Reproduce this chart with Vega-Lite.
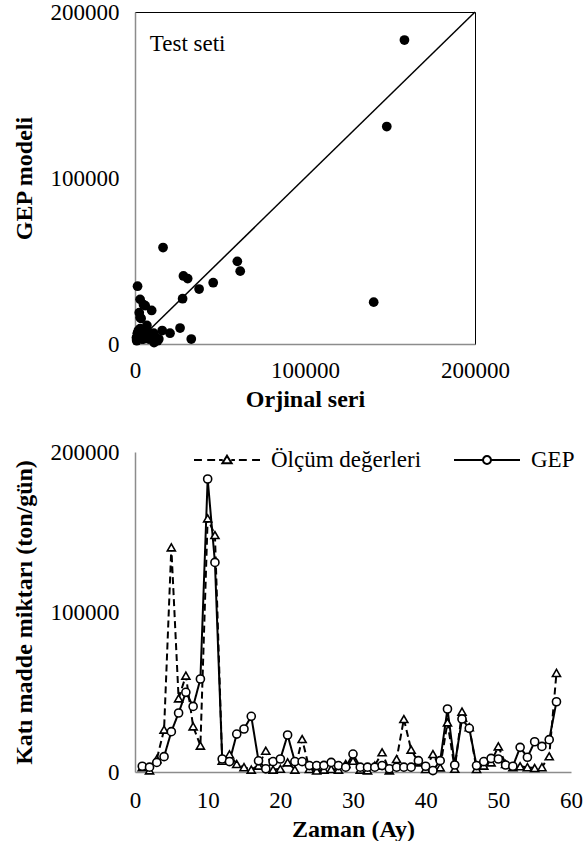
{
  "$schema": "https://vega.github.io/schema/vega-lite/v6.json",
  "background": "white",
  "padding": {"left": 11, "top": 0, "right": 0, "bottom": 0},
  "spacing": 14,
  "resolve": {"legend": {"shape": "independent"}},
  "datasets": {
    "d": [
      {"t": 1, "meas": 3000, "gep": 3600},
      {"t": 2, "meas": 1000, "gep": 3000},
      {"t": 3, "meas": 8000, "gep": 6000},
      {"t": 4, "meas": 26500, "gep": 9600},
      {"t": 5, "meas": 140400, "gep": 25200},
      {"t": 6, "meas": 46000, "gep": 36900},
      {"t": 7, "meas": 60200, "gep": 49800},
      {"t": 8, "meas": 28500, "gep": 41000},
      {"t": 9, "meas": 16500, "gep": 58100},
      {"t": 10, "meas": 158500, "gep": 183100},
      {"t": 11, "meas": 148100, "gep": 131000},
      {"t": 12, "meas": 7000, "gep": 8100},
      {"t": 13, "meas": 11000, "gep": 6500},
      {"t": 14, "meas": 5000, "gep": 23700},
      {"t": 15, "meas": 3000, "gep": 26900},
      {"t": 16, "meas": 1500, "gep": 34800},
      {"t": 17, "meas": 4000, "gep": 7000},
      {"t": 18, "meas": 13300, "gep": 2000},
      {"t": 19, "meas": 1500, "gep": 6500},
      {"t": 20, "meas": 2000, "gep": 8100},
      {"t": 21, "meas": 6000, "gep": 23100},
      {"t": 22, "meas": 1500, "gep": 6500},
      {"t": 23, "meas": 20600, "gep": 6500},
      {"t": 24, "meas": 1900, "gep": 4000},
      {"t": 25, "meas": 900, "gep": 4000},
      {"t": 26, "meas": 1500, "gep": 4100},
      {"t": 27, "meas": 1900, "gep": 6000},
      {"t": 28, "meas": 1500, "gep": 4000},
      {"t": 29, "meas": 5000, "gep": 3000},
      {"t": 30, "meas": 7000, "gep": 11200},
      {"t": 31, "meas": 1500, "gep": 3000},
      {"t": 32, "meas": 1000, "gep": 3000},
      {"t": 33, "meas": 4000, "gep": 3000},
      {"t": 34, "meas": 12300, "gep": 4000},
      {"t": 35, "meas": 1000, "gep": 2000},
      {"t": 36, "meas": 8100, "gep": 3000},
      {"t": 37, "meas": 33100, "gep": 3000},
      {"t": 38, "meas": 14000, "gep": 3000},
      {"t": 39, "meas": 6000, "gep": 7100},
      {"t": 40, "meas": 1900, "gep": 3600},
      {"t": 41, "meas": 11200, "gep": 900},
      {"t": 42, "meas": 2900, "gep": 7100},
      {"t": 43, "meas": 31000, "gep": 39400},
      {"t": 44, "meas": 2000, "gep": 4400},
      {"t": 45, "meas": 37700, "gep": 33100},
      {"t": 46, "meas": 28000, "gep": 27300},
      {"t": 47, "meas": 1900, "gep": 4000},
      {"t": 48, "meas": 4000, "gep": 6500},
      {"t": 49, "meas": 6000, "gep": 8500},
      {"t": 50, "meas": 16000, "gep": 8100},
      {"t": 51, "meas": 5000, "gep": 4400},
      {"t": 52, "meas": 3000, "gep": 3600},
      {"t": 53, "meas": 3600, "gep": 15400},
      {"t": 54, "meas": 3000, "gep": 9200},
      {"t": 55, "meas": 2500, "gep": 18900},
      {"t": 56, "meas": 3000, "gep": 16000},
      {"t": 57, "meas": 9800, "gep": 20200},
      {"t": 58, "meas": 61900, "gep": 43900}
    ]
  },
  "config": {
    "font": "Liberation Serif",
    "axis": {
      "grid": false,
      "ticks": false,
      "domainColor": "#8c8c8c",
      "domainWidth": 1.5,
      "labelFont": "Liberation Serif",
      "labelFontSize": 23,
      "labelColor": "black",
      "titleFont": "Liberation Serif",
      "titleFontSize": 24,
      "titleFontWeight": "bold",
      "titleColor": "black",
      "labelFlush": false,
      "labelOverlap": false
    },
    "axisX": {"labelPadding": 15, "titlePadding": 5},
    "axisY": {"labelPadding": 16, "titlePadding": 14},
    "legend": {
      "labelFont": "Liberation Serif",
      "labelFontSize": 23,
      "labelColor": "black"
    }
  },
  "vconcat": [
    {
      "width": 340,
      "height": 332,
      "view": {"stroke": "black", "strokeWidth": 1},
      "layer": [
        {
          "data": {"values": [{}]},
          "mark": {"type": "rule", "color": "black", "strokeWidth": 1.5},
          "encoding": {
            "x": {"datum": 0, "type": "quantitative"},
            "y": {"datum": 0, "type": "quantitative"},
            "x2": {"datum": 200000},
            "y2": {"datum": 200000}
          }
        },
        {
          "data": {"name": "d"},
          "mark": {"type": "point", "filled": true, "color": "black", "size": 95, "opacity": 1},
          "encoding": {
            "x": {
              "field": "meas", "type": "quantitative",
              "scale": {"domain": [0, 200000], "nice": false, "zero": true},
              "axis": {"values": [0, 100000, 200000], "format": "d", "title": "Orjinal seri"}
            },
            "y": {
              "field": "gep", "type": "quantitative",
              "scale": {"domain": [0, 200000], "nice": false, "zero": true},
              "axis": {"values": [0, 100000, 200000], "format": "d", "title": "GEP modeli"}
            }
          }
        },
        {
          "data": {"values": [{}]},
          "mark": {"type": "text", "text": "Test seti", "align": "left", "baseline": "middle", "font": "Liberation Serif", "fontSize": 23, "color": "black"},
          "encoding": {
            "x": {"datum": 8700, "type": "quantitative"},
            "y": {"datum": 180700, "type": "quantitative"}
          }
        }
      ]
    },
    {
      "width": 436,
      "height": 320,
      "view": {"stroke": null},
      "data": {"name": "d"},
      "transform": [{"fold": ["meas", "gep"], "as": ["series", "value"]}],
      "encoding": {
        "x": {
          "field": "t", "type": "quantitative",
          "scale": {"domain": [0, 60], "nice": false},
          "axis": {"values": [0, 10, 20, 30, 40, 50, 60], "title": "Zaman (Ay)", "labelPadding": 17}
        },
        "y": {
          "field": "value", "type": "quantitative",
          "scale": {"domain": [0, 200000], "nice": false},
          "axis": {"values": [0, 100000, 200000], "format": "d", "title": "Katı madde miktarı (ton/gün)"}
        }
      },
      "layer": [
        {
          "mark": {"type": "line", "color": "black", "strokeWidth": 2},
          "encoding": {
            "strokeDash": {
              "field": "series", "type": "nominal",
              "scale": {"domain": ["meas", "gep"], "range": [[7, 4], [1, 0]]},
              "legend": null
            }
          }
        },
        {
          "transform": [{"filter": "datum.series === 'meas'"}],
          "mark": {"type": "point", "shape": "triangle-up", "filled": true, "fill": "white", "stroke": "black", "strokeWidth": 1.6, "size": 65, "opacity": 1}
        },
        {
          "transform": [{"filter": "datum.series === 'gep'"}],
          "mark": {"type": "point", "shape": "circle", "filled": true, "fill": "white", "stroke": "black", "strokeWidth": 1.6, "size": 65, "opacity": 1}
        },
        {
          "transform": [{"filter": "datum.t < 0"}],
          "mark": {"type": "point", "filled": false, "stroke": "black", "strokeWidth": 2, "opacity": 1},
          "encoding": {
            "shape": {
              "field": "series", "type": "nominal",
              "scale": {
                "domain": ["meas", "gep"],
                "range": [
                  "M-1,0H-0.76M-0.6,0H-0.36M-0.24,0H-0.13M0.13,0H0.24M0.36,0H0.6M0.76,0H1M0,-0.13L0.14,0.1L-0.14,0.1Z",
                  "M-1,0H-0.12M0.12,0H1M0.12,0A0.12,0.12 0 1 1 -0.12,0A0.12,0.12 0 1 1 0.12,0Z"
                ]
              },
              "legend": {
                "title": null,
                "orient": "none",
                "legendX": 58,
                "legendY": -26,
                "direction": "horizontal",
                "labelExpr": "datum.value === 'meas' ? 'Ölçüm değerleri' : 'GEP'",
                "symbolSize": 4356,
                "symbolStrokeWidth": 2,
                "symbolStrokeColor": "black",
                "symbolFillColor": "white",
                "symbolOpacity": 1,
                "labelOffset": 10,
                "columnPadding": 28
              }
            }
          }
        }
      ]
    }
  ]
}
